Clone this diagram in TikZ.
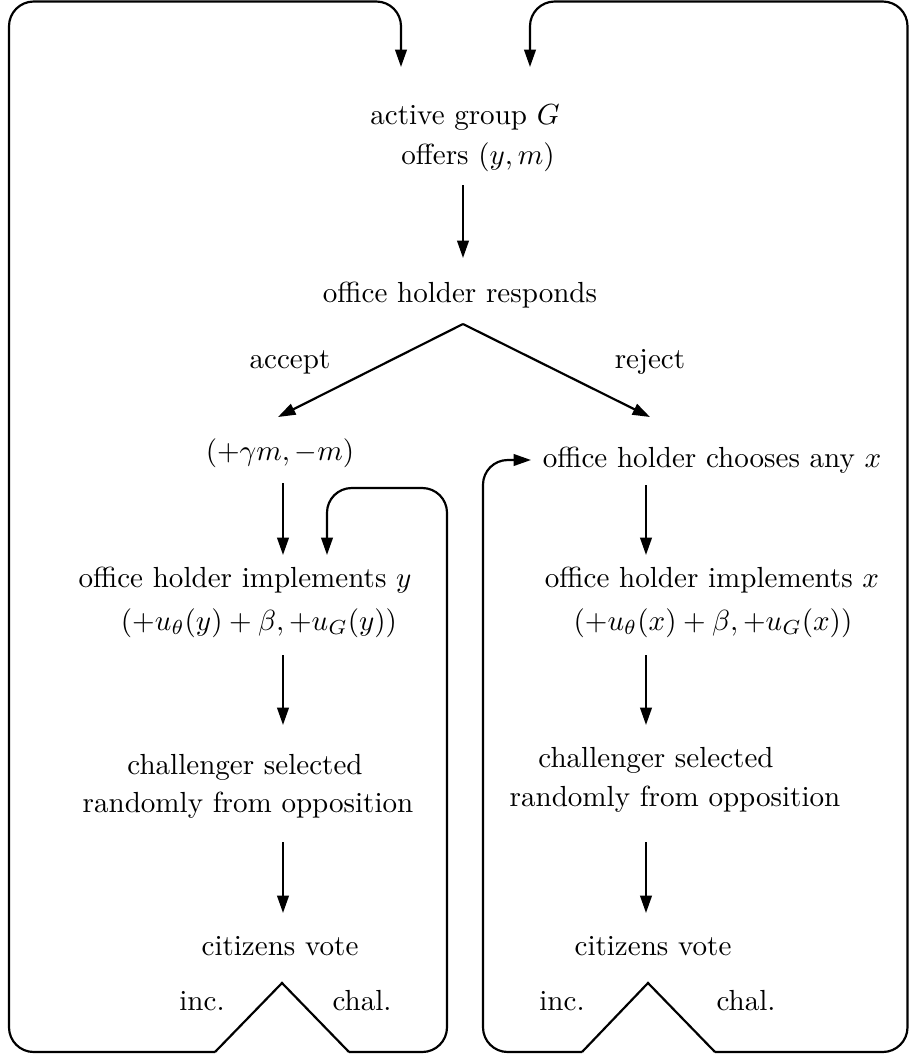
\documentclass[tikz,border=0pt]{standalone}
\usetikzlibrary{arrows.meta}
\begin{document}
\begin{tikzpicture}[x=0.344pt,y=-0.344pt,line width=0.75pt,
  lbl/.style={anchor=base,inner sep=0pt},
  arr/.style={-{Triangle[length=6pt,width=4pt]}},
  loopline/.style={rounded corners=8.5pt}]
\useasboundingbox (0,0) rectangle (910,1055);
% texts
\node[lbl] (ag) at (465,124) {active group $G$};
\node[lbl] (of) at (478,164) {offers $(y,m)$};
\node[lbl] (re) at (460,302) {office holder responds};
\node[lbl] (acc) at (290,368) {accept};
\node[lbl] (rej) at (650,368) {reject};
\node[lbl] (pay) at (280,460) {$(+\gamma m,-m)$};
\node[lbl] (ch) at (712,467) {office holder chooses any $x$};
\node[lbl] (imy) at (245,587) {office holder implements $y$};
\node[lbl] (uy) at (259,630) {$(+u_\theta(y)+\beta,+u_G(y))$};
\node[lbl] (imx) at (712,587) {office holder implements $x$};
\node[lbl] (ux) at (713,630) {$(+u_\theta(x)+\beta,+u_G(x))$};
\node[lbl] (csl) at (245,774) {challenger selected};
\node[lbl] (rol) at (248,812) {randomly from opposition};
\node[lbl] (csr) at (656,767) {challenger selected};
\node[lbl] (ror) at (675,806) {randomly from opposition};
\node[lbl] (cvl) at (280,955) {citizens vote};
\node[lbl] (cvr) at (653,955) {citizens vote};
\node[lbl] (incl) at (202,1010) {inc.};
\node[lbl] (chall) at (362,1010) {chal.};
\node[lbl] (incr) at (562,1010) {inc.};
\node[lbl] (chalr) at (746,1010) {chal.};
% coordinates
\coordinate (a1s) at (463,185); \coordinate (a1e) at (463,258);
\coordinate (apx) at (463,324);
\coordinate (accE) at (278,417); \coordinate (rejE) at (650,417);
\coordinate (l1s) at (283,483); \coordinate (l1e) at (283,555);
\coordinate (l2s) at (283,655); \coordinate (l2e) at (283,725);
\coordinate (l3s) at (283,842); \coordinate (l3e) at (283,913);
\coordinate (r1s) at (646,485); \coordinate (r1e) at (646,555);
\coordinate (r2s) at (646,655); \coordinate (r2e) at (646,725);
\coordinate (r3s) at (646,842); \coordinate (r3e) at (646,913);
\coordinate (vl) at (282,983); \coordinate (vlI) at (215,1052); \coordinate (vlC) at (349,1052);
\coordinate (vr) at (648,983); \coordinate (vrI) at (582,1052); \coordinate (vrC) at (715,1052);
\coordinate (topL) at (401,67); \coordinate (topR) at (530,67);
\coordinate (impyIn) at (327,555);
\coordinate (chIn) at (531,460);
% arrows
\draw[arr] (a1s) -- (a1e);
\draw[arr] (apx) -- (accE);
\draw[arr] (apx) -- (rejE);
\draw[arr] (l1s) -- (l1e);
\draw[arr] (l2s) -- (l2e);
\draw[arr] (l3s) -- (l3e);
\draw[arr] (r1s) -- (r1e);
\draw[arr] (r2s) -- (r2e);
\draw[arr] (r3s) -- (r3e);
% vote branches
\draw (vlI) -- (vl) -- (vlC);
\draw (vrI) -- (vr) -- (vrC);
% loops
\draw[arr,loopline] (vlI) -- (9,1052) -- (9,1.5) -- (401,1.5) -- (topL);
\draw[arr,loopline] (vrC) -- (907.5,1052) -- (907.5,1.5) -- (530,1.5) -- (topR);
\draw[arr,loopline] (vlC) -- (447,1052) -- (447,488) -- (327,488) -- (impyIn);
\draw[arr,loopline] (vrI) -- (483,1052) -- (483,460) -- (chIn);
\end{tikzpicture}
\end{document}
